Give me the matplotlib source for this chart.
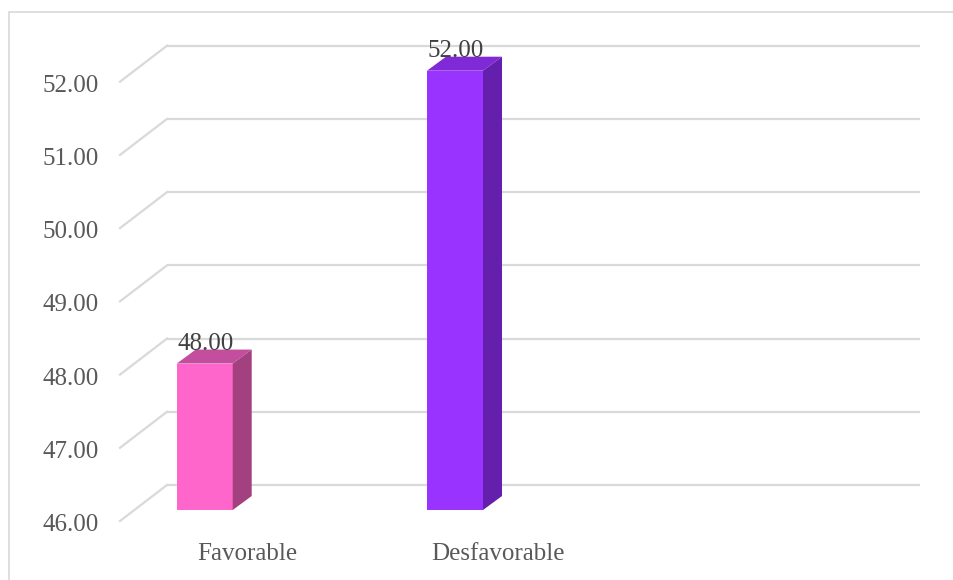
import numpy as np
import matplotlib
matplotlib.use("Agg")
from matplotlib import pyplot as plt
from matplotlib.patches import Rectangle, Polygon
from matplotlib.transforms import offset_copy

categories = ["Favorable", "Desfavorable"]
values = [48.00, 52.00]
yticks = [46, 47, 48, 49, 50, 51, 52]
ymin, ymax = 46, 52

front_colors = ["#FF66CC", "#9933FF"]
top_colors = ["#C44E9E", "#7F2AD6"]
side_colors = ["#A3407F", "#6420AD"]
grid_color = "#D9D9D9"
text_color = "#595959"

plt.rcParams['font.family'] = ['Liberation Serif', 'DejaVu Serif']

W, H = 954, 580
fig = plt.figure(figsize=(W / 100, H / 100), dpi=100)

# axes = bar front plane, in pixels (from top-left)
left_px, right_px = 134, 887
bottom_px, top_px = 510, 70.7
ax = fig.add_axes([left_px / W, 1 - bottom_px / H,
                   (right_px - left_px) / W, (bottom_px - top_px) / H])
ax.set_ylim(ymin, ymax)
ax.set_xlim(-0.2825, -0.2825 + (right_px - left_px) / 250.3)
ax.axis('off')

ux = (right_px - left_px) / (ax.get_xlim()[1] - ax.get_xlim()[0])
uy = (bottom_px - top_px) / (ymax - ymin)

# floor / wall geometry offsets in pixels relative to bar front plane
back_dx, back_dy = 33, 25
front_dx, front_dy = -14, -11

ytrans = ax.get_yaxis_transform()
for v in yticks:
    tb = offset_copy(ytrans, fig=fig, x=back_dx, y=back_dy, units='dots')
    ax.plot([0, 1], [v, v], color=grid_color, lw=1.6, transform=tb,
            solid_capstyle='butt', clip_on=False, zorder=1)
    x0 = 0 + front_dx / (right_px - left_px)
    x1 = 0 + back_dx / (right_px - left_px)
    ax.plot([x0, x1], [v + front_dy / uy, v + back_dy / uy], color=grid_color,
            lw=1.6, transform=ytrans, clip_on=False, zorder=1)
    tl = offset_copy(ytrans, fig=fig, x=-35, y=-15, units='dots')
    ax.text(0, v, f"{v:.2f}", transform=tl, ha='right', va='center',
            fontsize=18, color=text_color)

bw = 56 / ux
ddx, ddy = 19 / ux, 14 / uy
for i, (v, c) in enumerate(zip(values, categories)):
    x0 = i - bw / 2
    x1 = i + bw / 2
    ax.add_patch(Rectangle((x0, ymin), bw, v - ymin, facecolor=front_colors[i],
                           edgecolor='none', zorder=3, clip_on=False))
    ax.add_patch(Polygon([(x0, v), (x1, v), (x1 + ddx, v + ddy), (x0 + ddx, v + ddy)],
                         closed=True, facecolor=top_colors[i], edgecolor='none',
                         zorder=3, clip_on=False))
    ax.add_patch(Polygon([(x1, ymin), (x1, v), (x1 + ddx, v + ddy), (x1 + ddx, ymin + ddy)],
                         closed=True, facecolor=side_colors[i], edgecolor='none',
                         zorder=3, clip_on=False))
    tv = offset_copy(ax.transData, fig=fig, x=1, y=14, units='dots')
    ax.text(i, v, f"{v:.2f}", transform=tv, ha='center', va='baseline',
            fontsize=18, color="#404040", zorder=4)
    tc = offset_copy(ax.transData, fig=fig, x=43, y=-50, units='dots')
    ax.text(i, ymin, c, transform=tc, ha='center', va='baseline',
            fontsize=18, color=text_color)

# chart border
fig.patches.append(Rectangle((9 / W, -0.1), 1.1, 1 - 12 / H + 0.1, transform=fig.transFigure,
                             facecolor='none', edgecolor=grid_color, lw=1.2))

fig.savefig("out.png", dpi=100)
